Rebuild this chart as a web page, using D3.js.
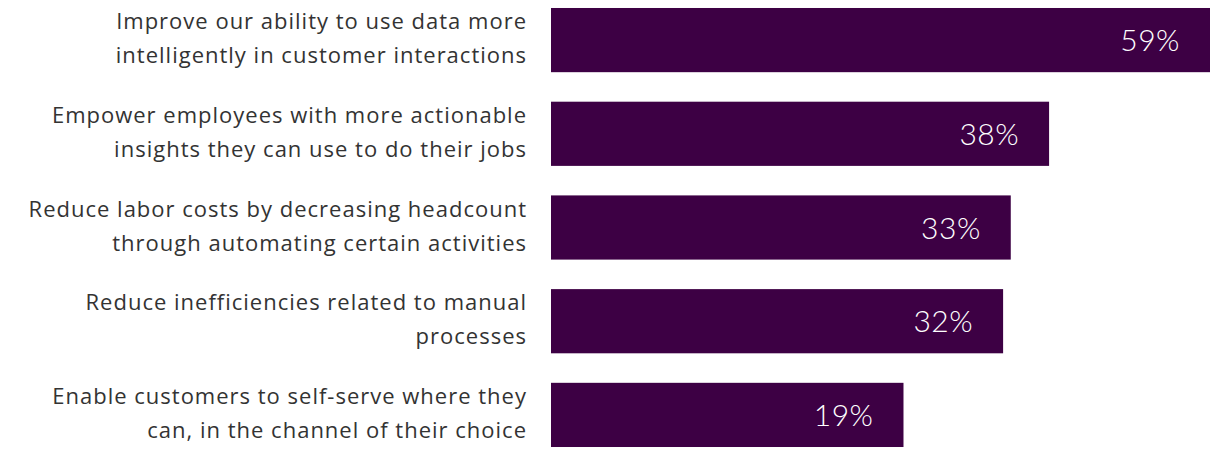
<!DOCTYPE html>
<html>
<head>
<meta charset="utf-8">
<script src="https://cdn.jsdelivr.net/npm/d3@7"></script>
<style>
 html,body{margin:0;padding:0;background:#fff;}
 svg{display:block;}
</style>
</head>
<body>
<svg id="chart" width="1218" height="458"></svg>
<script>
// ================= DATA =================
const labels=[
 ["Improve our ability to use data more","intelligently in customer interactions"],
 ["Empower employees with more actionable","insights they can use to do their jobs"],
 ["Reduce labor costs by decreasing headcount","through automating certain activities"],
 ["Reduce inefficiencies related to manual","processes"],
 ["Enable customers to self-serve where they","can, in the channel of their choice"]
];
const values=[59,38,33,32,19];

// ================= BARS =================
const svg=d3.select("#chart");
const ids=d3.range(values.length);

// the source graphic does not start its bars at zero, so the domain is offset
const x=d3.scaleLinear().domain([-27,d3.max(values)]).range([551,1210]);
const y=d3.scaleBand().domain(ids).range([-7,462]).paddingInner(0.315).paddingOuter(0.16);

svg.selectAll("rect.bar")
 .data(ids).enter().append("rect")
 .attr("class","bar")
 .attr("x",x.range()[0])
 .attr("y",i=>y(i))
 .attr("width",i=>x(values[i])-x.range()[0])
 .attr("height",y.bandwidth())
 .attr("fill","#3d0044");

svg.selectAll("text.val")
 .data(ids).enter().append("text")
 .attr("class","val")
 .attr("x",i=>x(values[i])-30)
 .attr("y",i=>y(i)+y.bandwidth()/2+11)
 .attr("text-anchor","end")
 .attr("fill","#fff")
 .style("font-family","Lato, 'Open Sans', sans-serif")
 .style("font-weight",300)
 .style("font-size","30px")
 .style("letter-spacing","0.5px")
 .text(i=>values[i]+"%");

// ================= LABELS =================
const lab=svg.selectAll("text.cat")
 .data(ids).enter().append("text")
 .attr("class","cat")
 .attr("text-anchor","end")
 .attr("fill","#333")
 .style("font-family","'Open Sans', sans-serif")
 .style("font-size","22px")
 .style("letter-spacing","1px");

lab.selectAll("tspan")
 .data(i=>labels[i].map((t,k)=>({t,k,i}))).enter().append("tspan")
 .attr("x",527)
 .attr("y",d=>y(d.i)+y.bandwidth()/2-11+d.k*34)
 .text(d=>d.t);
</script>
</body>
</html>
